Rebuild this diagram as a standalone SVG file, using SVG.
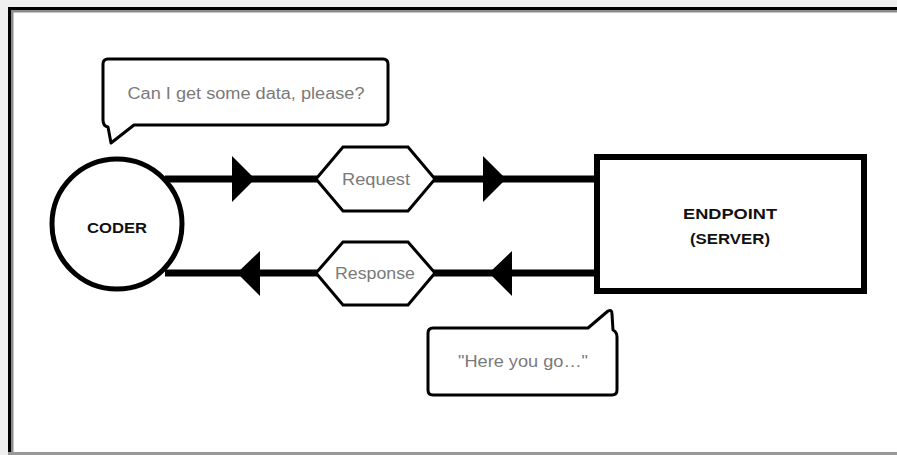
<svg xmlns="http://www.w3.org/2000/svg" width="897" height="455" viewBox="0 0 897 455">
  <style>
    .label { font-family: "Liberation Sans", Arial, sans-serif; font-size: 16px; fill: #7a7a7a; text-anchor: middle; }
    .title { font-family: "Liberation Sans", Arial, sans-serif; font-size: 14px; font-weight: bold; fill: #111; text-anchor: middle; }
    .bubble { fill: #fff; stroke: #000; stroke-width: 3; stroke-linejoin: round; }
    .tag { fill: #fff; stroke: #000; stroke-width: 3; stroke-linejoin: miter; }
    .wire { stroke: #000; stroke-width: 7; fill: none; }
    .head { fill: #000; }
  </style>

  <!-- page background and frame -->
  <rect x="0" y="0" width="897" height="455" fill="#efefef"/>
  <rect x="8" y="7" width="889" height="448" fill="#fff"/>
  <rect x="8" y="7" width="889" height="3" fill="#000"/>
  <rect x="11" y="10" width="886" height="2.5" fill="#8c8c8c"/>
  <rect x="8" y="7" width="3" height="448" fill="#000"/>
  <rect x="11" y="10" width="2.5" height="445" fill="#8c8c8c"/>
  <rect x="8" y="452" width="889" height="3" fill="#999"/>

  <!-- connectors -->
  <g id="connectors">
    <line class="wire" x1="165" y1="179" x2="598" y2="179"/>
    <polygon class="head" points="232,156 255,179 232,202"/>
    <polygon class="head" points="483,156 506,179 483,202"/>
    <line class="wire" x1="165" y1="273" x2="598" y2="273"/>
    <polygon class="head" points="260,251 237,273 260,296"/>
    <polygon class="head" points="512,251 489,273 512,296"/>
  </g>

  <g id="coder">
    <circle cx="117" cy="224" r="65" fill="#fff" stroke="#000" stroke-width="5"/>
    <text class="title" x="117" y="233" textLength="60" lengthAdjust="spacingAndGlyphs">CODER</text>
  </g>

  <g id="endpoint">
    <rect x="597" y="157" width="267" height="134" fill="#fff" stroke="#000" stroke-width="6"/>
    <text class="title" x="730" y="219" textLength="94" lengthAdjust="spacingAndGlyphs">ENDPOINT</text>
    <text class="title" x="730" y="244" textLength="80" lengthAdjust="spacingAndGlyphs">(SERVER)</text>
  </g>

  <g id="request">
    <polygon class="tag" points="316,179 343,147 408,147 435,179 408,211 343,211"/>
    <text class="label" x="376" y="185" textLength="68" lengthAdjust="spacingAndGlyphs">Request</text>
  </g>

  <g id="response">
    <polygon class="tag" points="316,273 343,242 408,242 435,273 408,305 343,305"/>
    <text class="label" x="375" y="279" textLength="80" lengthAdjust="spacingAndGlyphs">Response</text>
  </g>

  <g id="ask-bubble">
    <path class="bubble" d="M108,59 H383 Q388,59 388,64 V120 Q388,125 383,125 H134 L111,143 L108,127 Q103,126 103,120 V64 Q103,59 108,59 Z"/>
    <text class="label" x="246" y="99" textLength="237" lengthAdjust="spacingAndGlyphs">Can I get some data, please?</text>
  </g>

  <g id="reply-bubble">
    <path class="bubble" d="M433,328 H588 L608,311 Q612,309 612,314 L613,330 Q617,332 617,337 V390 Q617,395 612,395 H433 Q428,395 428,390 V333 Q428,328 433,328 Z"/>
    <text class="label" x="523" y="367" textLength="130" lengthAdjust="spacingAndGlyphs">"Here you go…"</text>
  </g>
</svg>
